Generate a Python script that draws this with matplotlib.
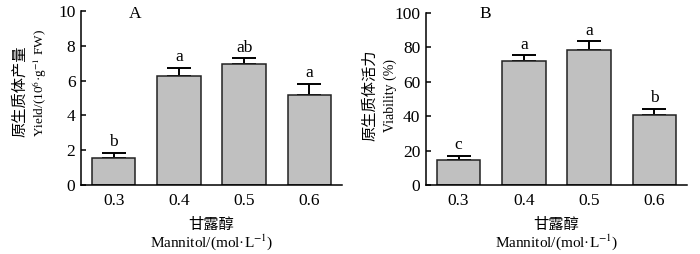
import matplotlib
matplotlib.use('Agg')
import matplotlib.pyplot as plt

plt.rcParams['font.family'] = ['Liberation Serif', 'Noto Sans CJK SC']
plt.rcParams['mathtext.fontset'] = 'stix'

# data
categories = ['0.3', '0.4', '0.5', '0.6']
yield_mean = [1.57, 6.28, 6.94, 5.17]
yield_err = [0.26, 0.46, 0.34, 0.62]
yield_letters = ['b', 'a', 'ab', 'a']
viab_mean = [14.5, 71.9, 78.5, 40.7]
viab_err = [2.2, 3.5, 5.0, 3.5]
viab_letters = ['c', 'a', 'a', 'b']

bar_color = '#c0c0c0'
fs = 12.5

W, H = 700, 254
fig = plt.figure(figsize=(7, 2.54), dpi=100)
axA = fig.add_axes([81/W, 1-185/H, 261/W, 174/H])
axB = fig.add_axes([426/W, 1-185/H, 261/W, 172/H])


def draw(ax, mean, err, letters, ymax, step):
    x = range(len(categories))
    ax.bar(x, mean, width=0.67, color=bar_color, edgecolor='#222222', linewidth=1.1, zorder=2)
    ax.errorbar(x, mean, yerr=[[0]*len(err), err], fmt='none', ecolor='black',
                elinewidth=1.4, capsize=8.3, capthick=1.4, zorder=1)
    for i, (m, e, l) in enumerate(zip(mean, err, letters)):
        ax.annotate(l, xy=(i, m + e), xytext=(0, 2), textcoords='offset points',
                    ha='center', va='bottom', fontsize=fs)
    ax.set_xlim(-0.5, 3.5)
    ax.set_ylim(0, ymax)
    ax.set_yticks(range(0, ymax + 1, step))
    ax.set_xticks(list(x))
    ax.set_xticklabels(categories)
    ax.spines['top'].set_visible(False)
    ax.spines['right'].set_visible(False)
    ax.spines['left'].set_linewidth(1.1)
    ax.spines['bottom'].set_linewidth(1.1)
    ax.tick_params(axis='y', direction='in', length=3.5, width=1.1, labelsize=fs, pad=4)
    ax.tick_params(axis='x', length=0, labelsize=fs, pad=6)


draw(axA, yield_mean, yield_err, yield_letters, 10, 2)
draw(axB, viab_mean, viab_err, viab_letters, 100, 20)

# panel tags
fig.text(135/W, 1-14/H, 'A', ha='center', va='center', fontsize=fs)
fig.text(485/W, 1-14/H, 'B', ha='center', va='center', fontsize=fs)

# x labels
for cx in (211.5, 556.5):
    fig.text(cx/W, 1-225/H, '甘露醇', ha='center', va='center', fontsize=11)
    fig.text(cx/W, 1-242/H, r'Mannitol/(mol·L$^{-1}$)', ha='center', va='center', fontsize=11)

# y labels
fig.text(20/W, 1-137/H, '原生质体产量', rotation=90, ha='center', va='bottom', fontsize=11)
fig.text(40/W, 1-137/H, r'Yield/(10$^{6}$·g$^{-1}$ FW)', rotation=90, ha='center', va='bottom', fontsize=9.5)
fig.text(370/W, 1-95/H, '原生质体活力', rotation=90, ha='center', va='center', fontsize=11)
fig.text(390/W, 1-95/H, 'Viability (%)', rotation=90, ha='center', va='center', fontsize=10)

fig.savefig('out.png', dpi=100)
